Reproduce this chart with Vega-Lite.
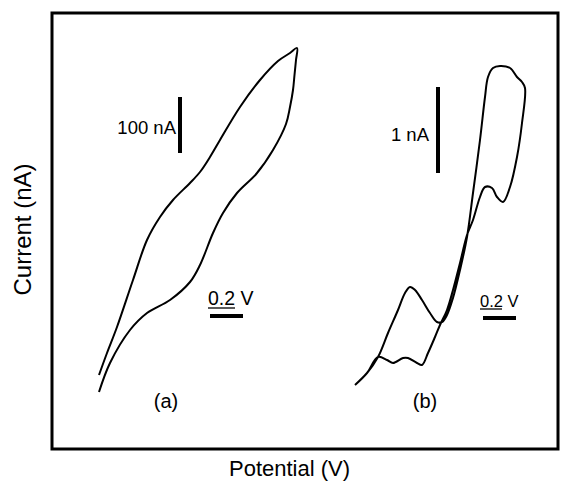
{
  "$schema": "https://vega.github.io/schema/vega-lite/v6.json",
  "width": 506,
  "height": 436,
  "autosize": "none",
  "padding": {"left": 52, "top": 13, "right": 3, "bottom": 32},
  "background": "white",
  "config": {
    "view": {"stroke": "black", "strokeWidth": 3},
    "font": "Liberation Sans",
    "axis": {"labels": false, "ticks": false, "domain": false, "grid": false, "titleFont": "Liberation Sans", "titleFontWeight": "normal", "titleColor": "black"}
  },
  "datasets": {
    "curves": [
      {"curve": "a", "i": 1, "x": 99, "y": 74},
      {"curve": "a", "i": 2, "x": 107, "y": 96},
      {"curve": "a", "i": 3, "x": 117, "y": 122},
      {"curve": "a", "i": 4, "x": 133, "y": 169},
      {"curve": "a", "i": 5, "x": 147, "y": 209},
      {"curve": "a", "i": 6, "x": 160, "y": 232},
      {"curve": "a", "i": 7, "x": 173, "y": 249},
      {"curve": "a", "i": 8, "x": 190, "y": 266},
      {"curve": "a", "i": 9, "x": 200, "y": 277},
      {"curve": "a", "i": 10, "x": 210, "y": 292},
      {"curve": "a", "i": 11, "x": 220, "y": 309},
      {"curve": "a", "i": 12, "x": 240, "y": 342},
      {"curve": "a", "i": 13, "x": 260, "y": 369},
      {"curve": "a", "i": 14, "x": 278, "y": 388},
      {"curve": "a", "i": 15, "x": 290, "y": 396},
      {"curve": "a", "i": 16, "x": 297, "y": 401},
      {"curve": "a", "i": 17, "x": 296, "y": 389},
      {"curve": "a", "i": 18, "x": 294.5, "y": 374},
      {"curve": "a", "i": 19, "x": 293, "y": 359},
      {"curve": "a", "i": 20, "x": 290, "y": 342},
      {"curve": "a", "i": 21, "x": 286, "y": 325},
      {"curve": "a", "i": 22, "x": 273, "y": 299},
      {"curve": "a", "i": 23, "x": 257, "y": 276},
      {"curve": "a", "i": 24, "x": 237, "y": 256},
      {"curve": "a", "i": 25, "x": 223, "y": 236},
      {"curve": "a", "i": 26, "x": 213, "y": 216},
      {"curve": "a", "i": 27, "x": 200, "y": 184},
      {"curve": "a", "i": 28, "x": 190, "y": 167},
      {"curve": "a", "i": 29, "x": 170, "y": 149},
      {"curve": "a", "i": 30, "x": 147, "y": 136},
      {"curve": "a", "i": 31, "x": 130, "y": 119},
      {"curve": "a", "i": 32, "x": 110, "y": 86},
      {"curve": "a", "i": 33, "x": 99, "y": 57},
      {"curve": "b", "i": 1, "x": 355, "y": 64},
      {"curve": "b", "i": 2, "x": 367, "y": 76},
      {"curve": "b", "i": 3, "x": 378, "y": 92},
      {"curve": "b", "i": 4, "x": 387, "y": 89},
      {"curve": "b", "i": 5, "x": 393, "y": 86},
      {"curve": "b", "i": 6, "x": 403, "y": 91},
      {"curve": "b", "i": 7, "x": 408, "y": 91},
      {"curve": "b", "i": 8, "x": 417, "y": 86},
      {"curve": "b", "i": 9, "x": 422, "y": 84},
      {"curve": "b", "i": 10, "x": 428, "y": 96},
      {"curve": "b", "i": 11, "x": 435, "y": 112},
      {"curve": "b", "i": 12, "x": 440, "y": 124},
      {"curve": "b", "i": 13, "x": 447, "y": 139},
      {"curve": "b", "i": 14, "x": 453, "y": 159},
      {"curve": "b", "i": 15, "x": 460, "y": 186},
      {"curve": "b", "i": 16, "x": 467, "y": 214},
      {"curve": "b", "i": 17, "x": 473, "y": 229},
      {"curve": "b", "i": 18, "x": 480, "y": 252},
      {"curve": "b", "i": 19, "x": 485, "y": 262},
      {"curve": "b", "i": 20, "x": 492, "y": 261},
      {"curve": "b", "i": 21, "x": 497, "y": 252},
      {"curve": "b", "i": 22, "x": 503, "y": 247},
      {"curve": "b", "i": 23, "x": 510, "y": 262},
      {"curve": "b", "i": 24, "x": 517, "y": 292},
      {"curve": "b", "i": 25, "x": 522, "y": 326},
      {"curve": "b", "i": 26, "x": 525, "y": 361},
      {"curve": "b", "i": 27, "x": 522, "y": 367},
      {"curve": "b", "i": 28, "x": 517, "y": 372},
      {"curve": "b", "i": 29, "x": 510, "y": 381},
      {"curve": "b", "i": 30, "x": 500, "y": 383},
      {"curve": "b", "i": 31, "x": 493, "y": 381},
      {"curve": "b", "i": 32, "x": 488, "y": 372},
      {"curve": "b", "i": 33, "x": 485, "y": 352},
      {"curve": "b", "i": 34, "x": 480, "y": 309},
      {"curve": "b", "i": 35, "x": 473, "y": 256},
      {"curve": "b", "i": 36, "x": 467, "y": 212},
      {"curve": "b", "i": 37, "x": 460, "y": 179},
      {"curve": "b", "i": 38, "x": 453, "y": 151},
      {"curve": "b", "i": 39, "x": 447, "y": 134},
      {"curve": "b", "i": 40, "x": 442, "y": 127},
      {"curve": "b", "i": 41, "x": 437, "y": 127},
      {"curve": "b", "i": 42, "x": 430, "y": 136},
      {"curve": "b", "i": 43, "x": 422, "y": 149},
      {"curve": "b", "i": 44, "x": 415, "y": 159},
      {"curve": "b", "i": 45, "x": 410, "y": 162},
      {"curve": "b", "i": 46, "x": 405, "y": 156},
      {"curve": "b", "i": 47, "x": 398, "y": 139},
      {"curve": "b", "i": 48, "x": 388, "y": 116},
      {"curve": "b", "i": 49, "x": 378, "y": 92},
      {"curve": "b", "i": 50, "x": 367, "y": 76},
      {"curve": "b", "i": 51, "x": 355, "y": 64}
    ],
    "bars": [
      {"bar": "a current", "x": 180, "x2": 180, "y": 296, "y2": 352},
      {"bar": "b current", "x": 438, "x2": 438, "y": 276, "y2": 362},
      {"bar": "a potential", "x": 210, "x2": 243, "y": 133, "y2": 133},
      {"bar": "b potential", "x": 483, "x2": 516, "y": 131, "y2": 131}
    ],
    "underlines": [
      {"x": 208, "x2": 235, "y": 141, "y2": 141},
      {"x": 480, "x2": 502, "y": 140, "y2": 140}
    ],
    "rightLabels": [
      {"label": "100 nA", "x": 176, "y": 315},
      {"label": "1 nA", "x": 429, "y": 308}
    ],
    "leftLabels": [
      {"panel": "a", "label": "0.2 V", "x": 208, "y": 144},
      {"panel": "b", "label": "0.2 V", "x": 480, "y": 142}
    ],
    "panelLabels": [
      {"label": "(a)", "x": 166, "y": 41},
      {"label": "(b)", "x": 425, "y": 41}
    ]
  },
  "layer": [
    {
      "data": {"name": "curves"},
      "mark": {"type": "line", "color": "black", "strokeWidth": 2, "interpolate": "catmull-rom"},
      "encoding": {
        "x": {"field": "x", "type": "quantitative", "scale": {"domain": [52, 558], "nice": false, "zero": false}, "axis": {"title": "Potential (V)", "titleFontSize": 22, "titlePadding": 9, "titleX": 237}},
        "y": {"field": "y", "type": "quantitative", "scale": {"domain": [0, 436], "nice": false, "zero": false}, "axis": {"title": "Current (nA)", "titleFontSize": 24, "titlePadding": 17, "titleY": 216}},
        "detail": {"field": "curve"},
        "order": {"field": "i", "type": "quantitative"}
      }
    },
    {
      "data": {"name": "bars"},
      "mark": {"type": "rule", "color": "black", "strokeWidth": 4},
      "encoding": {
        "x": {"field": "x", "type": "quantitative"},
        "x2": {"field": "x2"},
        "y": {"field": "y", "type": "quantitative"},
        "y2": {"field": "y2"}
      }
    },
    {
      "data": {"name": "underlines"},
      "mark": {"type": "rule", "color": "black", "strokeWidth": 1.3},
      "encoding": {
        "x": {"field": "x", "type": "quantitative"},
        "x2": {"field": "x2"},
        "y": {"field": "y", "type": "quantitative"},
        "y2": {"field": "y2"}
      }
    },
    {
      "data": {"name": "rightLabels"},
      "mark": {"type": "text", "align": "right", "baseline": "alphabetic", "fontSize": 18.5, "font": "Liberation Sans", "color": "black"},
      "encoding": {
        "x": {"field": "x", "type": "quantitative"},
        "y": {"field": "y", "type": "quantitative"},
        "text": {"field": "label"}
      }
    },
    {
      "data": {"name": "leftLabels"},
      "transform": [{"filter": "datum.panel === 'a'"}],
      "mark": {"type": "text", "align": "left", "baseline": "alphabetic", "fontSize": 19.5, "font": "Liberation Sans", "color": "black"},
      "encoding": {
        "x": {"field": "x", "type": "quantitative"},
        "y": {"field": "y", "type": "quantitative"},
        "text": {"field": "label"}
      }
    },
    {
      "data": {"name": "leftLabels"},
      "transform": [{"filter": "datum.panel === 'b'"}],
      "mark": {"type": "text", "align": "left", "baseline": "alphabetic", "fontSize": 16.5, "font": "Liberation Sans", "color": "black"},
      "encoding": {
        "x": {"field": "x", "type": "quantitative"},
        "y": {"field": "y", "type": "quantitative"},
        "text": {"field": "label"}
      }
    },
    {
      "data": {"name": "panelLabels"},
      "mark": {"type": "text", "align": "center", "baseline": "alphabetic", "fontSize": 20, "font": "Liberation Sans", "color": "black"},
      "encoding": {
        "x": {"field": "x", "type": "quantitative"},
        "y": {"field": "y", "type": "quantitative"},
        "text": {"field": "label"}
      }
    }
  ]
}
